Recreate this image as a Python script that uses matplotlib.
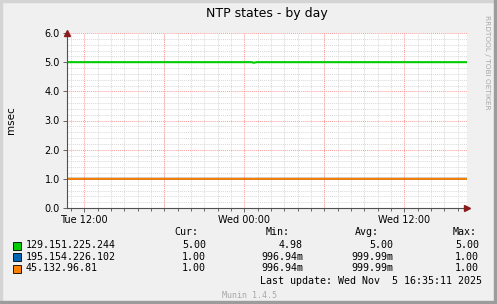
import matplotlib
matplotlib.use("Agg")
import matplotlib.pyplot as plt
import matplotlib.dates as mdates
import pandas as pd
from matplotlib.patches import Rectangle

# Munin palette
COLOR_BG = "#F0F0F0"
COLOR_GREEN = "#00CC00"
COLOR_BLUE = "#0066B3"
COLOR_ORANGE = "#FF8000"
COLOR_MAJOR = "#FF9A9A"
COLOR_MINOR = "#D8D8D8"
COLOR_AXIS = "#505050"
COLOR_ARROW = "#8B1A1A"

# data (sampled every few hours, with the small dip just after midnight)
times = pd.to_datetime([
    "2025-11-04 10:42", "2025-11-04 18:00", "2025-11-05 00:35",
    "2025-11-05 00:40", "2025-11-05 00:50", "2025-11-05 00:55",
    "2025-11-05 06:00", "2025-11-05 12:00", "2025-11-05 16:42",
])
green = [5.00, 5.00, 5.00, 4.98, 4.99, 5.00, 5.00, 5.00, 5.00]
blue = [1.00, 1.00, 1.00, 0.99694, 1.00, 1.00, 1.00, 1.00, 1.00]
orange = [1.00, 1.00, 1.00, 0.99694, 1.00, 1.00, 1.00, 1.00, 1.00]

names = ["129.151.225.244", "195.154.226.102", "45.132.96.81"]
colors = [COLOR_GREEN, COLOR_BLUE, COLOR_ORANGE]
cur = ["5.00", "1.00", "1.00"]
mins = ["4.98", "996.94m", "996.94m"]
avgs = ["5.00", "999.99m", "999.99m"]
maxs = ["5.00", "1.00", "1.00"]

t_start = pd.Timestamp("2025-11-04 10:42")
t_end = pd.Timestamp("2025-11-05 16:42")

W, H = 497, 304
fig = plt.figure(figsize=(W / 100, H / 100), dpi=100, facecolor=COLOR_BG)

# frame (light top/left, dark bottom/right)
fig.patches.append(Rectangle((0, 0), 2 / W, 1, transform=fig.transFigure, color="#D4D4D4", zorder=0))
fig.patches.append(Rectangle((0, 1 - 2 / H), 1, 2 / H, transform=fig.transFigure, color="#D4D4D4", zorder=0))
fig.patches.append(Rectangle((0, 0), 1, 3 / H, transform=fig.transFigure, color="#9C9C9C", zorder=0))
fig.patches.append(Rectangle((1 - 3 / W, 0), 3 / W, 1, transform=fig.transFigure, color="#9C9C9C", zorder=0))

x0, x1, y_top, y_bot = 67, 467, 33, 208
ax = fig.add_axes([x0 / W, 1 - y_bot / H, (x1 - x0) / W, (y_bot - y_top) / H])
ax.set_facecolor("white")

ax.plot(times, blue, color=COLOR_BLUE, lw=1.5, zorder=3)
ax.plot(times, orange, color=COLOR_ORANGE, lw=1.5, zorder=4)
ax.plot(times, green, color=COLOR_GREEN, lw=1.5, zorder=4)

ax.set_xlim(t_start, t_end)
ax.set_ylim(0, 6)

ax.xaxis.set_major_locator(mdates.HourLocator(byhour=[0, 12]))
ax.xaxis.set_major_formatter(mdates.DateFormatter("%a %H:%M"))
ax.xaxis.set_minor_locator(mdates.HourLocator())
ax.set_yticks([0, 1, 2, 3, 4, 5, 6])
ax.set_yticklabels(["0.0", "1.0", "2.0", "3.0", "4.0", "5.0", "6.0"])
ax.set_yticks([i * 0.2 for i in range(31)], minor=True)

# grid: grey minor, red dotted every 6 h / every unit
ax.grid(True, which="minor", color=COLOR_MINOR, ls=(0, (1, 1)), lw=0.7, zorder=1)
for h in pd.date_range("2025-11-04 12:00", "2025-11-05 12:00", freq="6h"):
    ax.axvline(h, color=COLOR_MAJOR, ls=(0, (1, 1)), lw=0.7, zorder=2)
for v in range(1, 7):
    ax.axhline(v, color=COLOR_MAJOR, ls=(0, (1, 1)), lw=0.7, zorder=2)

for s in ["top", "right"]:
    ax.spines[s].set_visible(False)
for s in ["left", "bottom"]:
    ax.spines[s].set_color(COLOR_AXIS)
    ax.spines[s].set_linewidth(0.8)
    ax.spines[s].set_zorder(5)

ax.tick_params(which="both", direction="out", color=COLOR_AXIS, width=0.6, labelsize=7, pad=2)
ax.tick_params(which="major", length=3)
ax.tick_params(which="minor", length=2)
ax.tick_params(axis="y", which="minor", length=0)

ax.plot([0], [1.0], marker="^", color=COLOR_ARROW, ms=5, transform=ax.transAxes, clip_on=False, zorder=6)
ax.plot([1.0], [0], marker=">", color=COLOR_ARROW, ms=5, transform=ax.transAxes, clip_on=False, zorder=6)

fig.text(11 / W, 1 - 120 / H, "msec", rotation=90, ha="center", va="center", fontsize=7.5)

fig.text(267 / W, 1 - 13 / H, "NTP states - by day", ha="center", va="center", fontsize=9)
fig.text(487 / W, 1 - 62 / H, "RRDTOOL / TOBI OETIKER", rotation=270, ha="center", va="center",
         fontsize=5.3, color="#A8A8A8")

# legend table
mono = dict(family="DejaVu Sans Mono", fontsize=7.2, va="center")
hy = 232
fig.text(198 / W, 1 - hy / H, "Cur:", ha="right", **mono)
fig.text(290 / W, 1 - hy / H, "Min:", ha="right", **mono)
fig.text(379 / W, 1 - hy / H, "Avg:", ha="right", **mono)
fig.text(477 / W, 1 - hy / H, "Max:", ha="right", **mono)
for i, name in enumerate(names):
    y = 1 - (245 + i * 11.7) / H
    fig.patches.append(Rectangle((13 / W, y - 4.5 / H), 8 / W, 8 / H, transform=fig.transFigure,
                                 facecolor=colors[i], edgecolor="black", lw=0.6))
    fig.text(26 / W, y, name, ha="left", **mono)
    fig.text(206 / W, y, cur[i], ha="right", **mono)
    fig.text(303 / W, y, mins[i], ha="right", **mono)
    fig.text(393 / W, y, avgs[i], ha="right", **mono)
    fig.text(479 / W, y, maxs[i], ha="right", **mono)
fig.text(482 / W, 1 - 281 / H, "Last update: Wed Nov  5 16:35:11 2025", ha="right", **mono)
fig.text(250 / W, 1 - 296 / H, "Munin 1.4.5", ha="center", family="DejaVu Sans Mono",
         fontsize=6, va="center", color="#A8A8A8")

fig.savefig("out.png", dpi=100, facecolor=COLOR_BG)
